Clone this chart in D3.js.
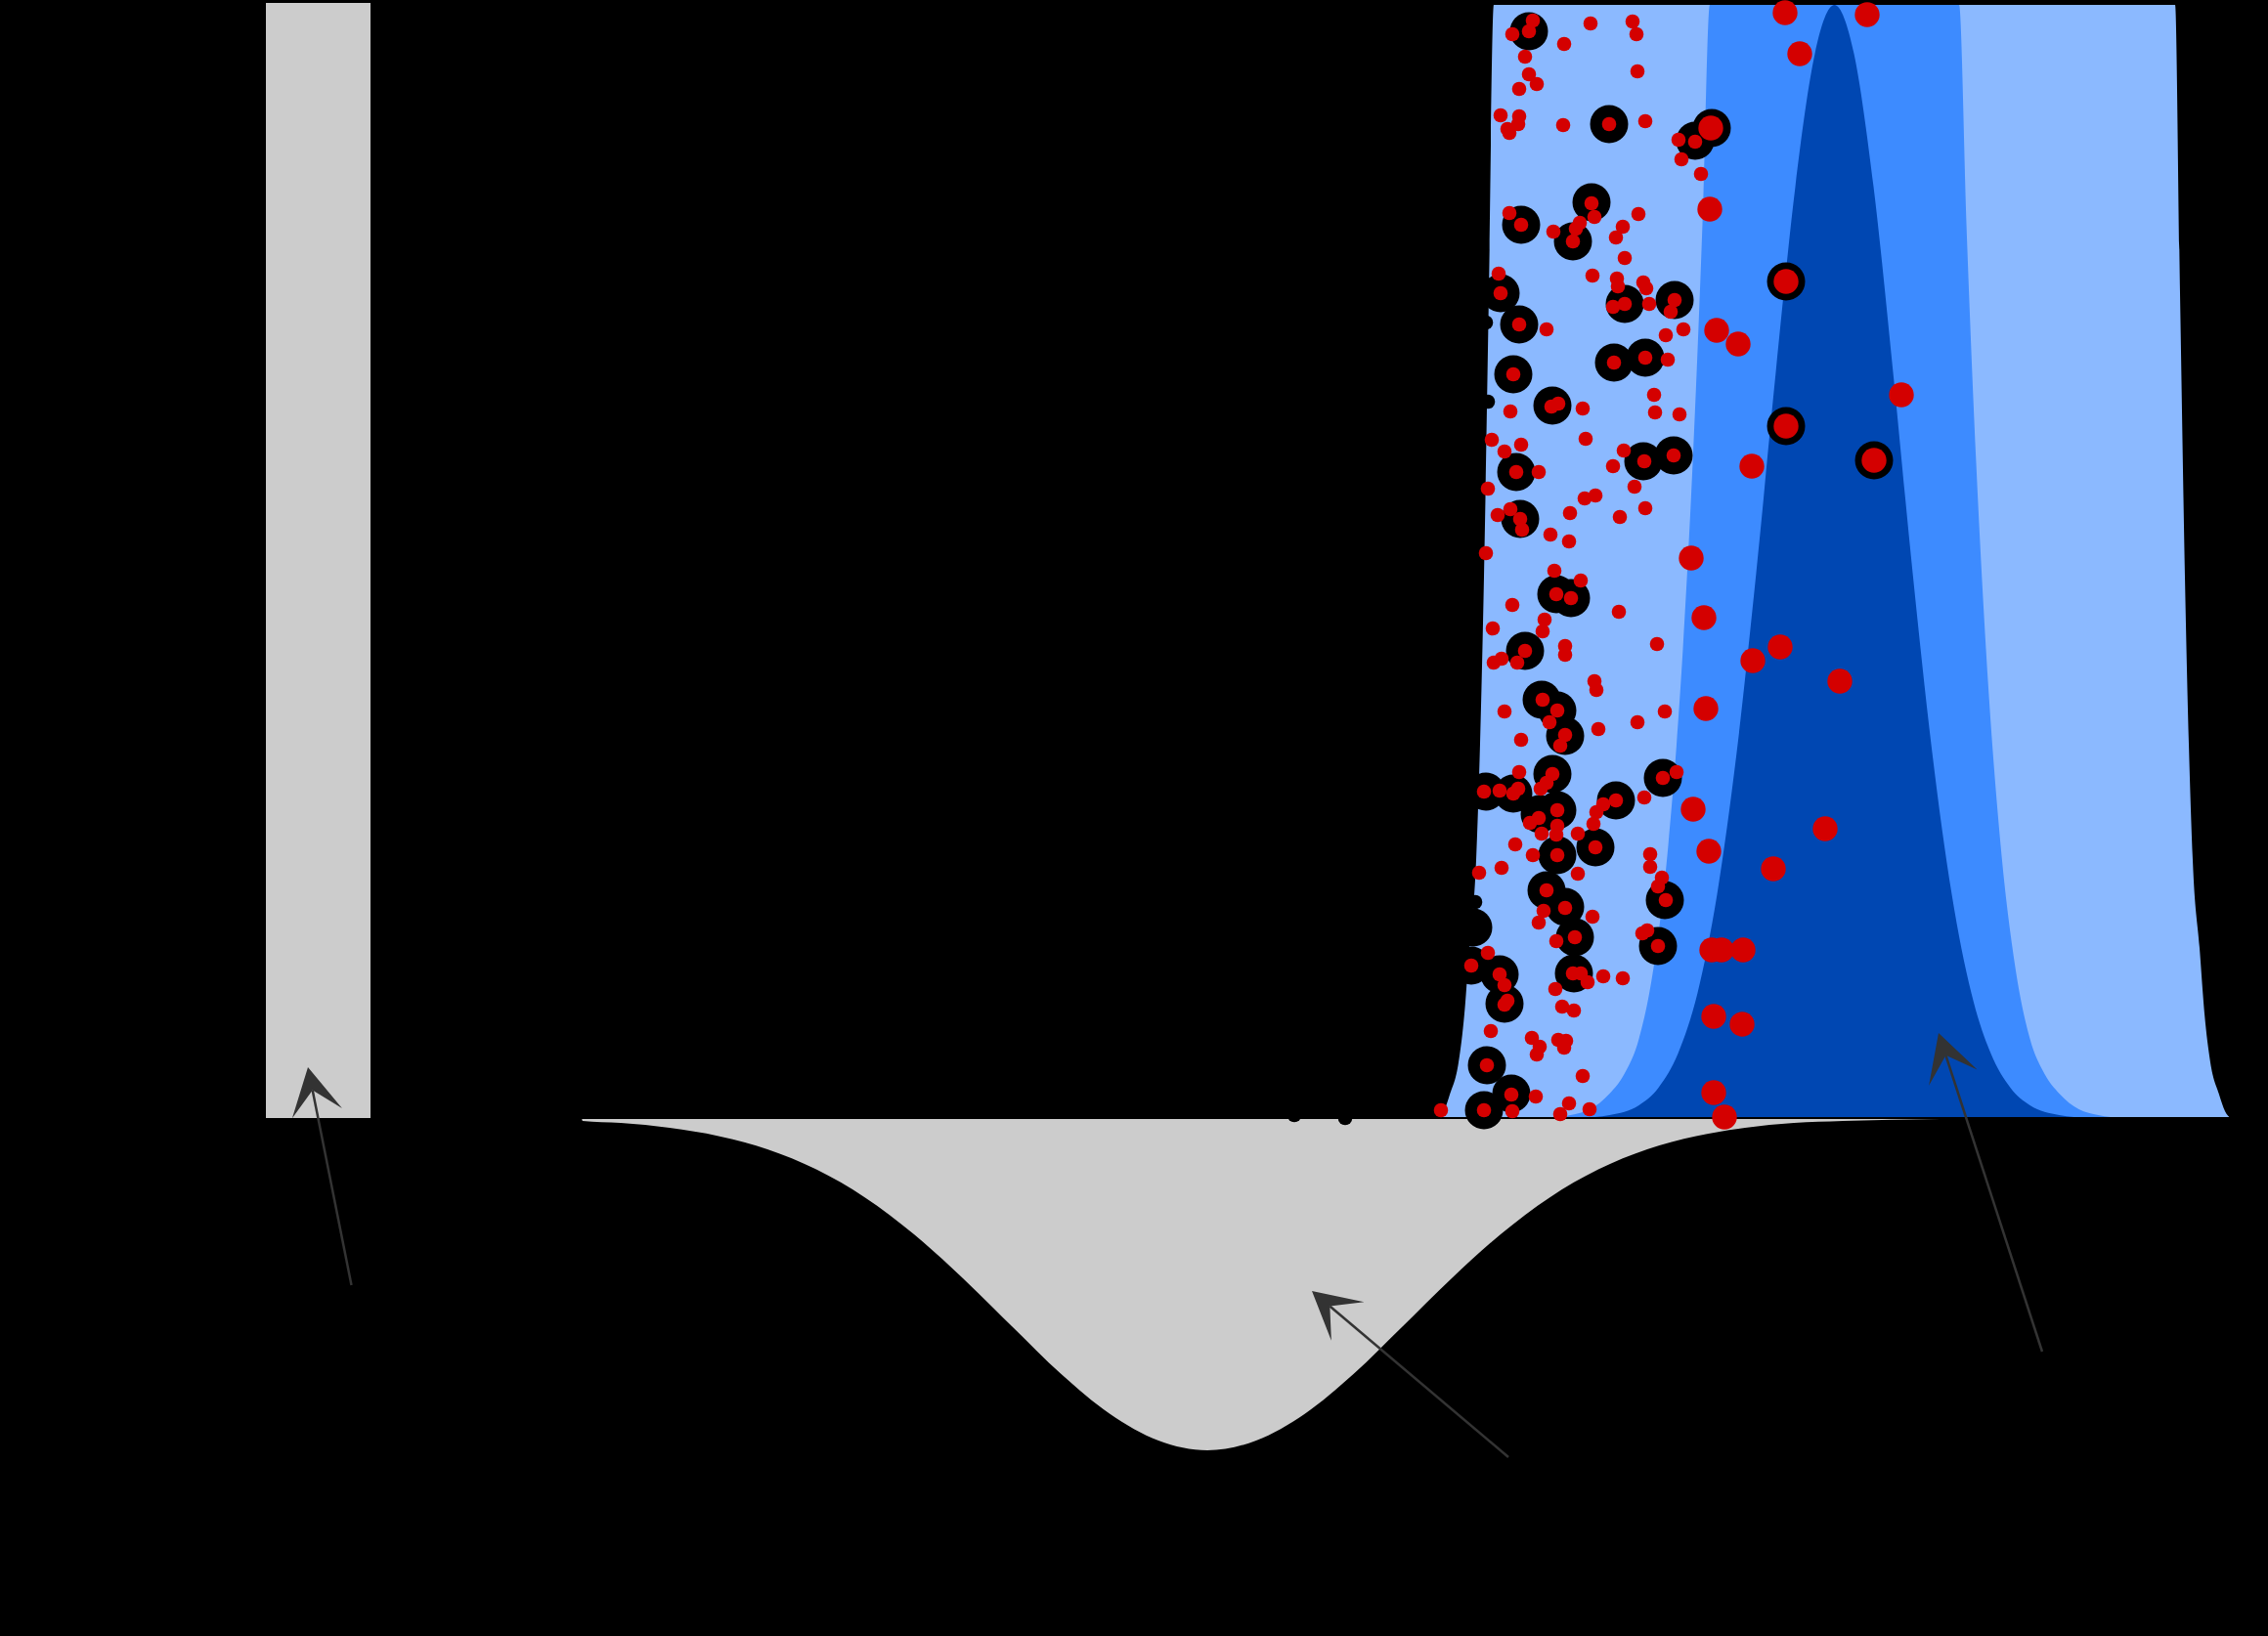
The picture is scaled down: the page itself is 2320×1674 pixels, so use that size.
<!DOCTYPE html>
<html lang="en">

<head>
  <meta charset="UTF-8">
  <meta name="viewport" content="width=device-width, initial-scale=1.0">
  <title>Posterior sketch</title>
  <style>
    html, body { margin: 0; padding: 0; background: #000; }
    svg { display: block; }
  </style>
</head>

<body>
  <svg id="svg" width="2320" height="1674"></svg>

  <script src="https://d3js.org/d3.v7.min.js"></script>
  <script>
    // band outlines, [x, height]
    const lightBand = [[0.15, 0], [0.7, 0.7], [1.3, 2.4], [2.2, 5.7], [2.8, 10.7], [3.3, 17.4], [4.0, 26.4], [4.8, 55.4], [5.3, 84.4], [5.8, 113.9],
      [75.5, 113.9], [76.0, 84.4], [76.5, 55.4], [77.3, 26.4], [78.0, 17.4], [78.5, 10.7], [79.1, 5.7], [80.0, 2.4], [80.6, 0.7], [81.15, 0]]

    const midBand = [[11.15, 0], [13.65, 0.3], [15.65, 0.9], [17.65, 2.5], [19.15, 4.5], [20.65, 8.1], [22.15, 15.4], [23.65, 27.9], [25.15, 48.0], [26.15, 67.0], [27.15, 91.5], [27.9, 113.9],
      [53.4, 113.9], [54.15, 91.5], [55.15, 67.0], [56.15, 48.0], [57.65, 27.9], [59.15, 15.4], [60.65, 8.1], [62.15, 4.5], [63.65, 2.5], [65.65, 0.9], [67.65, 0.3], [70.15, 0]]

    const peakBand = [[14.65, 0], [17.65, 0.3], [20.65, 1.3], [22.65, 3.1], [24.65, 6.6], [26.65, 12.8], [28.65, 22.9], [30.65, 37.4], [32.65, 55.8], [34.65, 76.3], [36.65, 95.3], [38.65, 108.9], [40.65, 113.9],
      [42.65, 108.9], [44.65, 95.3], [46.65, 76.3], [48.65, 55.8], [50.65, 37.4], [52.65, 22.9], [54.65, 12.8], [56.65, 6.6], [58.65, 3.1], [60.65, 1.3], [63.65, 0.3], [66.65, 0]]

    // grey curve hanging under the baseline
    const greyDip = [[-87.5, 0], [-87.4, -0.3], [-83.5, -0.5], [-78.5, -1.0], [-73.5, -1.84], [-68.5, -3.2], [-63.5, -5.26], [-58.5, -8.14], [-53.5, -11.9], [-48.5, -16.4], [-43.5, -21.3], [-38.5, -26.15], [-33.5, -30.25], [-28.5, -33.0], [-23.5, -34.0],
      [-18.5, -33.0], [-13.5, -30.25], [-8.5, -26.15], [-3.5, -21.3], [1.5, -16.4], [6.5, -11.9], [11.5, -8.14], [16.5, -5.26], [21.5, -3.2], [26.5, -1.84], [31.5, -1.0], [36.5, -0.5], [41.5, -0.3], [51.5, -0.1], [81.3, 0]]

    // grey bar: x from, x to, top
    const greyBar = [-119.8, -109.1, 114.1]

    // samples
    const rings = [[9.4, 111.2], [17.6, 101.7], [26.4, 100.0], [28.1, 101.3], [15.8, 93.7], [8.6, 91.4], [13.9, 89.7],
      [6.5, 84.4], [8.4, 81.2], [19.2, 83.3], [24.3, 83.7], [18.1, 77.3], [21.3, 77.8], [7.8, 76.1], [11.8, 72.9], [8.1, 66.1], [21.1, 67.2], [24.2, 67.8], [8.5, 61.3],
      [12.2, 53.6], [13.7, 53.2], [9.0, 47.8], [10.7, 42.8], [12.3, 41.7], [13.1, 39.1], [5.0, 33.4], [7.8, 33.2], [11.8, 35.2], [10.5, 31.1], [12.3, 31.5], [18.3, 32.5], [23.1, 34.8], [12.3, 26.9], [16.2, 27.7],
      [11.2, 23.3], [13.1, 21.6], [14.1, 18.5], [23.3, 22.3], [22.6, 17.6], [3.5, 15.6], [6.4, 14.7], [6.9, 11.7], [14.0, 14.8], [5.1, 5.4], [7.6, 2.5], [4.8, 0.8], [3.7, 19.5],
      [35.7, 85.6], [35.7, 70.8], [44.7, 67.3]]

    const blackDots = [[5.0, 81.4], [5.2, 73.3], [3.9, 22.1], [-14.6, 0.3], [-9.4, 0.0]]

    const smallRed = [[9.8, 112.3], [9.4, 111.2], [7.7, 110.9], [15.7, 112.0], [20.0, 112.2], [20.4, 110.9], [13.0, 109.9], [9.0, 108.6], [20.5, 107.1], [9.4, 106.8], [10.2, 105.8], [8.4, 105.3],
      [6.5, 102.6], [8.4, 102.5], [8.3, 101.7], [7.2, 101.2], [7.4, 100.8], [12.9, 101.6], [17.6, 101.7], [21.3, 102.0], [24.7, 100.1], [26.4, 99.9], [25.0, 98.1], [27.0, 96.6],
      [7.4, 92.6], [8.6, 91.4], [15.8, 93.6], [16.1, 92.2], [14.6, 91.6], [14.2, 91.0], [13.9, 89.7], [11.9, 90.7], [20.6, 92.5], [19.0, 91.2], [18.3, 90.1], [19.2, 88.0],
      [6.3, 86.4], [15.9, 86.2], [18.4, 85.9], [21.1, 85.5], [18.5, 85.1], [21.4, 84.9],
      [6.5, 84.4], [8.4, 81.2], [11.2, 80.7], [18.0, 83.0], [19.2, 83.3], [21.7, 83.3], [24.3, 83.7], [23.9, 82.5], [23.4, 80.1], [25.2, 80.7], [18.1, 77.3], [21.3, 77.8], [23.6, 77.6],
      [7.8, 76.1], [22.2, 74.0], [22.3, 72.2], [24.8, 72.0], [11.7, 72.8], [12.4, 73.1], [14.9, 72.6], [7.5, 72.3], [15.2, 69.5], [5.6, 69.4], [8.6, 68.9], [6.9, 68.2], [8.1, 66.1],
      [10.4, 66.1], [19.1, 68.3], [18.0, 66.7], [21.2, 67.2], [24.2, 67.8], [5.2, 64.4], [20.2, 64.6], [15.1, 63.4], [16.2, 63.7], [13.6, 61.9], [6.2, 61.7], [7.5, 62.3], [8.5, 61.3],
      [8.7, 60.2], [21.3, 62.4], [18.7, 61.5], [11.6, 59.7], [13.5, 59.0], [5.0, 57.8],
      [12.0, 56.0], [14.7, 55.0], [12.2, 53.6], [13.7, 53.2], [7.7, 52.5], [18.6, 51.8], [11.0, 51.0], [10.8, 49.8], [5.7, 50.1], [13.1, 48.3], [13.1, 47.4], [9.0, 47.8], [6.6, 47.0],
      [5.8, 46.6], [8.2, 46.6], [22.5, 48.5], [16.1, 44.7], [16.3, 43.8], [10.8, 42.8], [12.3, 41.7], [11.5, 40.5], [6.9, 41.6], [23.3, 41.6], [20.5, 40.5], [16.5, 39.8], [13.1, 39.2],
      [12.6, 38.1], [8.6, 38.7], [8.4, 35.4], [11.8, 35.2], [11.2, 34.3], [10.6, 33.7], [4.8, 33.4], [6.4, 33.5], [7.8, 33.2], [8.3, 33.7], [24.5, 35.4], [23.1, 34.8], [21.2, 32.8],
      [18.3, 32.5], [17.0, 32.1], [16.3, 31.3], [16.0, 30.1], [12.3, 31.5], [10.4, 30.7], [9.5, 30.2], [12.3, 29.9], [10.7, 29.1], [12.2, 29.0], [14.4, 29.1], [8.0, 28.0], [16.2, 27.7],
      [9.8, 26.9], [12.3, 26.9], [21.8, 27.0],
      [4.3, 25.1], [6.6, 25.6], [14.4, 25.0], [21.8, 25.7], [23.0, 24.6], [22.6, 23.7], [23.4, 22.3], [11.2, 23.3], [13.1, 21.5], [10.9, 21.2], [10.4, 20.0], [15.9, 20.6], [14.1, 18.5],
      [12.2, 18.1], [21.0, 18.9], [21.5, 19.2], [22.6, 17.6], [5.2, 16.9], [3.5, 15.6], [6.4, 14.7], [6.9, 13.6], [13.9, 14.8], [14.7, 14.8], [15.4, 13.9], [17.0, 14.5], [19.0, 14.3],
      [12.1, 13.2], [7.2, 12.0], [6.9, 11.6], [12.8, 11.4], [14.0, 11.0], [5.5, 8.9], [9.7, 8.2], [10.5, 7.3], [10.2, 6.5], [12.4, 8.0], [13.2, 7.9], [13.0, 7.2], [5.1, 5.4], [14.9, 4.3],
      [7.6, 2.4], [10.1, 2.2], [7.7, 0.7], [4.8, 0.8], [0.4, 0.8], [13.5, 1.5], [12.6, 0.4], [15.6, 0.9]]

    const bigRed = [[35.6, 113.1], [44.0, 112.9], [37.1, 108.9], [28.0, 101.3], [27.9, 93.0], [35.7, 85.6], [28.6, 80.6], [30.8, 79.2], [47.5, 74.0], [35.7, 70.8], [44.7, 67.3],
      [32.2, 66.7], [26.0, 57.3], [27.3, 51.2], [35.1, 48.2], [32.3, 46.8], [41.2, 44.7], [27.5, 41.9], [26.2, 31.6], [39.7, 29.6], [27.8, 27.3], [34.4, 25.5], [28.1, 17.2], [29.1, 17.2],
      [31.3, 17.2], [28.3, 10.4], [31.2, 9.6], [28.3, 2.6], [29.4, 0.1]]

    // annotation arrows: [tail, tip]
    const arrows = [[[-111.05, -17.1], [-115.5, 5.2]], [[7.3, -34.7], [-12.8, -17.7]], [[61.9, -23.9], [51.3, 8.7]]]

    const xScale = d3.scaleLinear()
      .domain([-120, 81.3])
      .range([270, 2283])

    const yScale = d3.scaleLinear()
      .domain([0, 114])
      .range([1144, 4])

    const svg = d3.select('#svg')

    const area = d3.area()
      .x(d => xScale(d[0]))
      .y0(yScale(0))
      .y1(d => yScale(d[1]))
      .curve(d3.curveMonotoneX)

    // blue bands, widest first
    const bands = [[lightBand, '#8bb9ff'], [midBand, '#3d8bff'], [peakBand, '#0047b2']]
    svg.selectAll('path.band')
      .data(bands)
      .enter()
      .append('path')
      .attr('class', 'band')
      .attr('d', d => area(d[0]))
      .attr('fill', d => d[1])

    svg.append('path')
      .attr('d', area(greyDip))
      .attr('fill', '#cccccc')

    svg.append('rect')
      .attr('x', xScale(greyBar[0]))
      .attr('y', yScale(greyBar[2]))
      .attr('width', xScale(greyBar[1]) - xScale(greyBar[0]))
      .attr('height', yScale(0) - yScale(greyBar[2]))
      .attr('fill', '#cccccc')

    // baseline
    svg.append('line')
      .attr('x1', xScale(greyDip[0][0]))
      .attr('x2', xScale(81.3))
      .attr('y1', yScale(0))
      .attr('y2', yScale(0))
      .attr('stroke', '#000')
      .attr('stroke-width', 2)

    // black markers under the red ones
    svg.append('g')
      .selectAll('circle')
      .data(rings)
      .enter()
      .append('circle')
      .attr('cx', d => xScale(d[0]))
      .attr('cy', d => yScale(d[1]))
      .attr('r', 19.5)
      .attr('fill', '#000')

    svg.append('g')
      .selectAll('circle')
      .data(blackDots)
      .enter()
      .append('circle')
      .attr('cx', d => xScale(d[0]))
      .attr('cy', d => yScale(d[1]))
      .attr('r', 7.3)
      .attr('fill', '#000')

    svg.append('g')
      .selectAll('circle')
      .data(smallRed)
      .enter()
      .append('circle')
      .attr('cx', d => xScale(d[0]))
      .attr('cy', d => yScale(d[1]))
      .attr('r', 7.3)
      .attr('fill', '#d40000')

    svg.append('g')
      .selectAll('circle')
      .data(bigRed)
      .enter()
      .append('circle')
      .attr('cx', d => xScale(d[0]))
      .attr('cy', d => yScale(d[1]))
      .attr('r', 12.7)
      .attr('fill', '#d40000')

    // arrows, drawn in screen space from the scaled ends
    const arrowGroups = svg.append('g')
      .selectAll('g')
      .data(arrows)
      .enter()
      .append('g')

    const geom = d => {
      const x1 = xScale(d[0][0]), y1 = yScale(d[0][1])
      const x2 = xScale(d[1][0]), y2 = yScale(d[1][1])
      const len = Math.hypot(x2 - x1, y2 - y1)
      const ux = (x1 - x2) / len, uy = (y1 - y2) / len // back along the shaft
      return { x1, y1, x2, y2, ux, uy }
    }

    arrowGroups
      .append('path')
      .attr('d', d => {
        const g = geom(d)
        return d3.line()([[g.x1, g.y1], [g.x2 + g.ux * 24, g.y2 + g.uy * 24]])
      })
      .attr('stroke', '#333333')
      .attr('stroke-width', 2.5)
      .attr('fill', 'none')

    arrowGroups
      .append('path')
      .attr('d', d => {
        const g = geom(d)
        const vx = -g.uy, vy = g.ux
        return d3.line()([
          [g.x2, g.y2],
          [g.x2 + g.ux * 48 + vx * 26, g.y2 + g.uy * 48 + vy * 26],
          [g.x2 + g.ux * 24, g.y2 + g.uy * 24],
          [g.x2 + g.ux * 48 - vx * 26, g.y2 + g.uy * 48 - vy * 26]
        ]) + 'Z'
      })
      .attr('fill', '#333333')
  </script>

</body>

</html>
